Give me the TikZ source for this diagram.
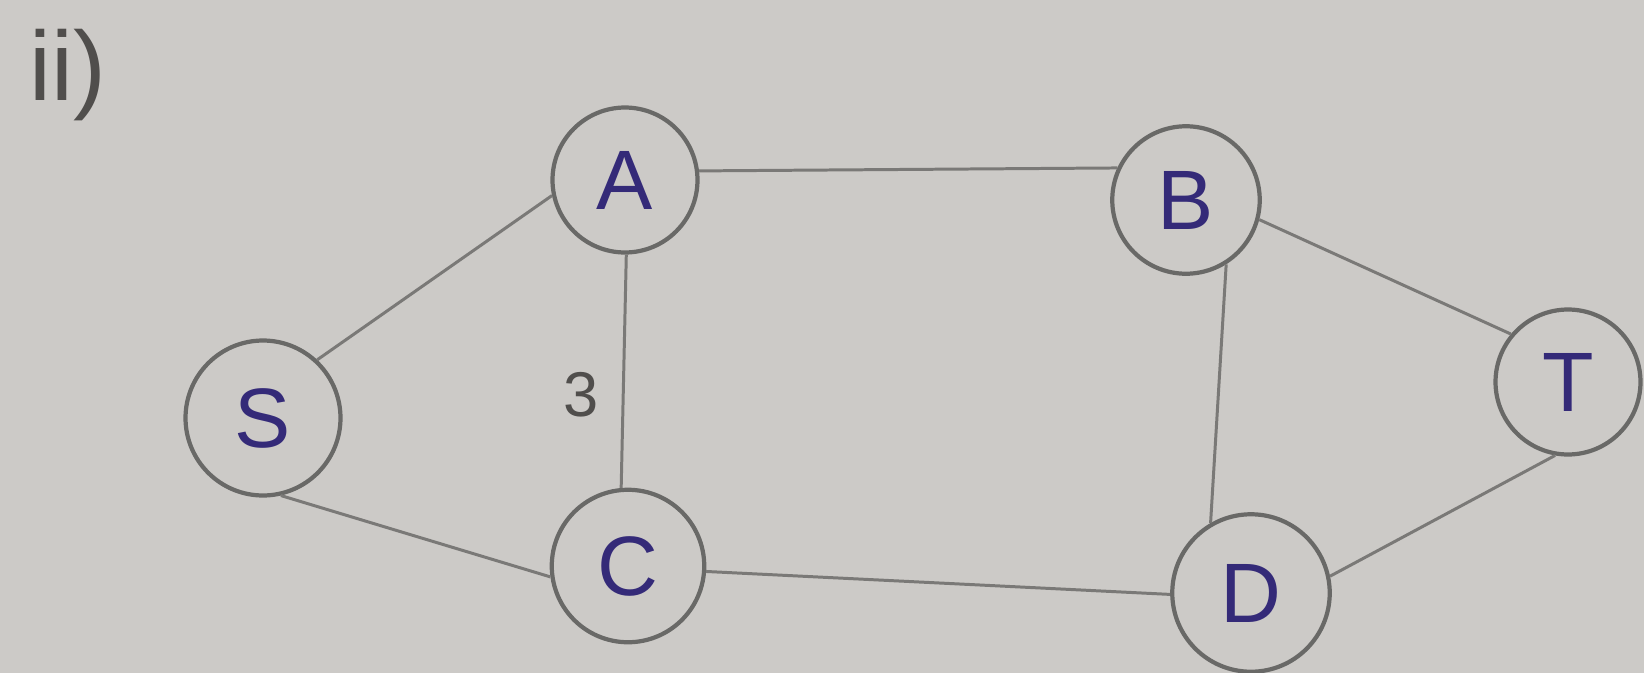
\documentclass[tikz,border=0pt]{standalone}
\usepackage{fontspec}
\setmainfont{Liberation Sans}
\definecolor{paper}{RGB}{204,202,199}
\definecolor{pencil}{RGB}{105,105,103}
\definecolor{lightpencil}{RGB}{122,121,119}
\definecolor{ink}{RGB}{52,42,120}
\definecolor{graphite}{RGB}{80,78,76}
\begin{document}
\begin{tikzpicture}[x=0.02cm,y=-0.02cm,
  vertex/.style={circle,draw=pencil,line width=2.4pt,minimum size=3cm,
    text=ink,font=\fontsize{48}{58}\selectfont},
  edge/.style={draw=lightpencil,line width=1.7pt}]
  % paper
  \fill[paper] (0,0) rectangle (1644,673);
  \useasboundingbox (0,0) rectangle (1644,673);
  % vertices
  \node[vertex,minimum size=2.9cm] (A) at (625,180) {A};
  \node[vertex,minimum size=2.95cm] (B) at (1186,200) {B};
  \node[vertex,minimum size=3.1cm] (S) at (263,418) {S};
  \node[vertex,minimum size=3.05cm] (C) at (628,566) {C};
  \node[vertex,minimum size=3.15cm] (D) at (1251,593) {D};
  \node[vertex,minimum size=2.9cm] (T) at (1568,382) {T};
  % edges
  \draw[edge] (A.7) -- (B.155);
  \draw[edge] (S.47) -- (A.192);
  \draw[edge] (A.-89) -- node[pos=0.6,left,text=graphite,
      font=\fontsize{36}{44}\selectfont,xshift=-0.35cm] (w) {3} (C.95);
  \draw[edge] (B.-15) -- (T.140);
  \draw[edge] (B.-58) -- (D.120);
  \draw[edge] (S.-77) -- (C.188);
  \draw[edge] (C.-4) -- (D.181);
  \draw[edge] (D.12) -- (T.-100);
  % part label
  \node[text=graphite,font=\fontsize{56}{66}\selectfont] (lbl) at (68,75) {ii)};
\end{tikzpicture}
\end{document}
